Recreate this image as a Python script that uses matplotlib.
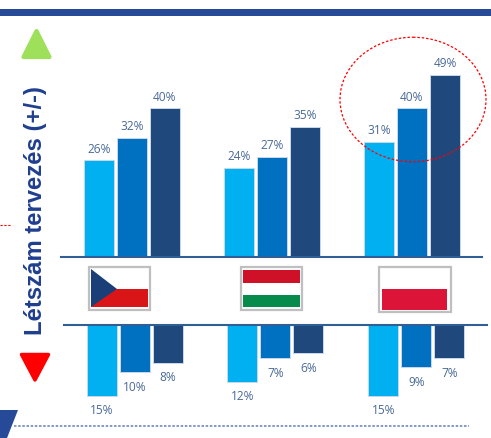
import matplotlib
matplotlib.use('Agg')
import matplotlib.pyplot as plt
from matplotlib.patches import Ellipse, Polygon, Rectangle

W, H = 491, 439

# Létszám tervezés, országonként három oszlop
countries = ['CZ', 'HU', 'PL']
up_light = [26, 24, 31]
up_mid = [32, 27, 40]
up_dark = [40, 35, 49]
down_light = [15, 12, 15]
down_mid = [10, 7, 9]
down_dark = [8, 6, 7]
axis_title = 'Létszám tervezés (+/-)'

LIGHT = '#00B0F0'
MID = '#0070C0'
DARK = '#1F497D'
TXT = '#4A6A98'
LINE = '#2F5F94'
GRAY = '#BFBFBF'

plt.rcParams['font.family'] = ['Liberation Sans', 'DejaVu Sans']

fig = plt.figure(figsize=(W / 100, H / 100), dpi=100)

# felső rész: 0 = y 258 px, 3.72 px / %
ax_up = fig.add_axes([0, 1 - 258 / H, 1, 258 / H])
ax_up.set_xlim(0, W)
ax_up.set_ylim(0, 258 / 3.72)
ax_up.axis('off')

# alsó rész: 0 = y 326 px, 4.72 px / %
ax_down = fig.add_axes([0, 0, 1, (H - 326) / H])
ax_down.set_xlim(0, W)
ax_down.set_ylim((H - 326) / 4.72, 0)
ax_down.axis('off')

# díszítés pixelben
ax_bg = fig.add_axes([0, 0, 1, 1], zorder=-1)
ax_bg.set_xlim(0, W)
ax_bg.set_ylim(H, 0)
ax_bg.axis('off')
ax_top = fig.add_axes([0, 0, 1, 1], zorder=5)
ax_top.set_xlim(0, W)
ax_top.set_ylim(H, 0)
ax_top.axis('off')
ax_top.patch.set_alpha(0)


def draw_bars(ax, start, group_step, series, pad):
    for g in range(len(countries)):
        for s, (vals, col) in enumerate(series):
            x = start + g * group_step + s * 33 + 15
            ax.bar(x, vals[g], width=30, color=col, edgecolor='#C9D8EC', linewidth=0.7)
            ax.annotate(f'{vals[g]}%', (x, vals[g]), xytext=(0, pad), textcoords='offset pixels',
                        ha='center', va='center', fontsize=8.6, color=TXT, family=['Open Sans', 'DejaVu Sans'])


draw_bars(ax_up, 84, 140, [(up_light, LIGHT), (up_mid, MID), (up_dark, DARK)], 12)
draw_bars(ax_down, 86.7, 140.8, [(down_light, LIGHT), (down_mid, MID), (down_dark, DARK)], -14)

# felső sáv
ax_bg.add_patch(Rectangle((0, 10), W, 7.3, color='#264A97', lw=0))

# háromszögek
ax_bg.add_patch(Polygon([(36.5, 32), (23.5, 58), (49.5, 58)], closed=True, fc='#9EE05A', ec='#9EE05A',
                        lw=3, joinstyle='round'))
ax_bg.add_patch(Polygon([(35, 381), (21.5, 355.5), (48.5, 355.5)], closed=True, fc='#FF0000', ec='#FF0000',
                        lw=2.5, joinstyle='round'))

ax_bg.text(35.5, 211, axis_title, rotation=90, ha='center', va='center', fontsize=17.2,
           fontweight='bold', color='#1F3F8F')

# vízszintes vonalak
ax_top.plot([61, 482], [258, 258], color=LINE, lw=1.5)
ax_top.plot([64, 487], [325.5, 325.5], color=LINE, lw=1.5)

# zászlók
ax_bg.add_patch(Rectangle((89, 268), 61, 42.5, fc='white', ec=GRAY, lw=1.6))
ax_bg.add_patch(Rectangle((91, 290), 57, 18, color='#DA1518', lw=0))
ax_bg.add_patch(Polygon([(91, 270), (91, 308), (117, 290)], closed=True, color='#1A3F78', lw=0))

ax_bg.add_patch(Rectangle((241, 268), 61, 42.5, fc='white', ec=GRAY, lw=1.6))
ax_bg.add_patch(Rectangle((243.3, 271), 56.4, 12.7, color='#CE1126', lw=0))
ax_bg.add_patch(Rectangle((243.3, 296), 56.4, 12, color='#078B4C', lw=0))

ax_bg.add_patch(Rectangle((379, 268), 72, 45, fc='white', ec=GRAY, lw=1.6))
ax_bg.add_patch(Rectangle((382.5, 290), 65, 20.5, color='#DC1438', lw=0))

# piros szaggatott ellipszis
ax_top.add_patch(Ellipse((413, 100.5), 146, 124.5, fc='none', ec='#FF0000', lw=0.9, ls=(0, (2, 1.5))))
ax_bg.plot([0, 11], [226, 226], color='#FF0000', lw=0.8, ls=(0, (2, 1.5)))

# alsó pontozott vonal + sarok
ax_bg.plot([14, 469], [426.7, 426.7], color='#6F86C0', lw=1.2, ls=(0, (1.5, 1)))
ax_bg.add_patch(Polygon([(0, 411), (18, 411), (7, 439), (0, 439)], closed=True, color='#264A97', lw=0))

fig.savefig('out.png', dpi=100)
